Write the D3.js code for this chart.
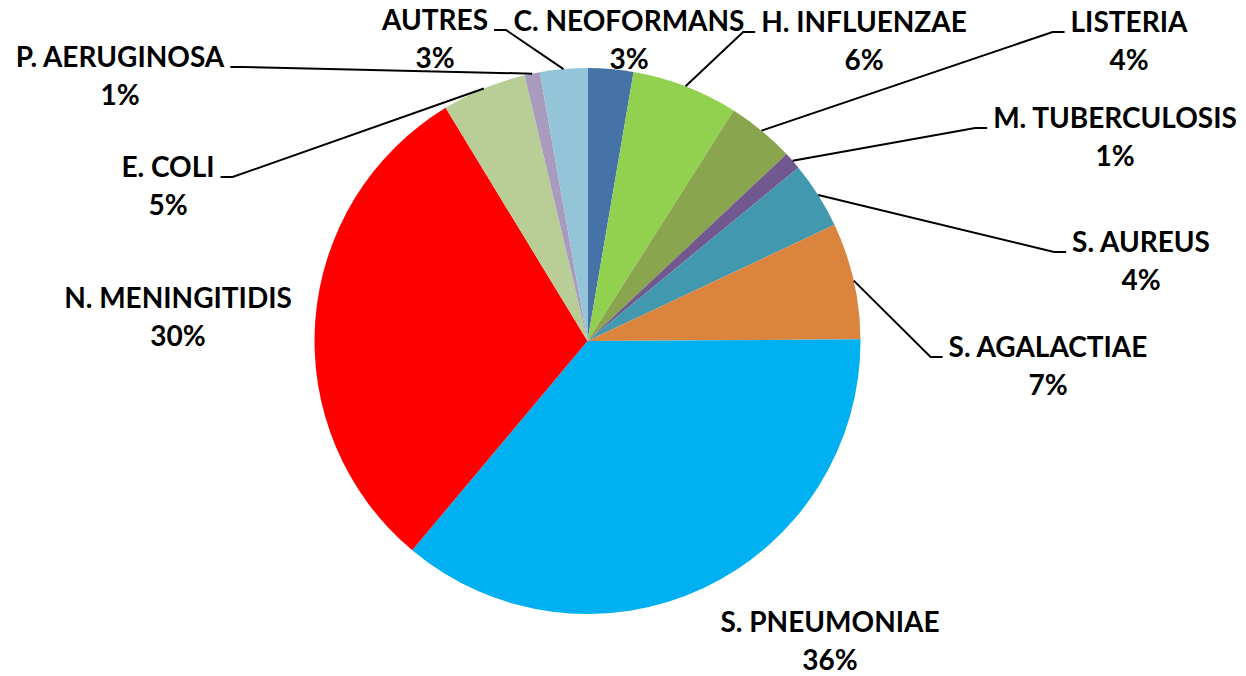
<!DOCTYPE html>
<html>
<head>
<meta charset="utf-8">
<script src="https://cdn.jsdelivr.net/npm/d3@7"></script>
<style>
  html, body { margin: 0; padding: 0; background: #fff; }
  svg { display: block; }
</style>
</head>
<body>
<div id="chart"></div>
<script>
// ── Pathogen share pie ──
// Slices run clockwise from 12 o'clock, in the sheet's row order.

const categories = [
  'C. NEOFORMANS', 'H. INFLUENZAE', 'LISTERIA', 'M. TUBERCULOSIS', 'S. AUREUS',
  'S. AGALACTIAE', 'S. PNEUMONIAE', 'N. MENINGITIDIS', 'E. COLI', 'P. AERUGINOSA', 'AUTRES',
]

const shares = [2.7, 6.3, 4.0, 1.05, 3.95, 6.9, 36.2, 30.2, 5.0, 0.9, 2.8]

const sliceColors = [
  '#4572A7', '#92D050', '#89A54E', '#71588F', '#4198AF',
  '#DB843D', '#00B0F0', '#FF0000', '#B9CD96', '#A99BBD', '#93C4D8',
]

// Label layout: block centre x and first-line baseline, as placed by hand in the sheet
const labelPos = [
  [629, 31], [864, 32], [1129, 32], [1115, 128], [1141, 252],
  [1048, 357], [830, 632], [178, 308], [168, 177], [120, 67], [435, 30],
]
const hasLeader = [false, true, true, true, true, true, false, false, true, true, true]

const width = 1246, height = 676
const cx = 587.5, cy = 341, radius = 273
const lineGap = 37.5

const svg = d3.select('#chart')
  .append('svg')
  .attr('width', width)
  .attr('height', height)
  .attr('viewBox', `0 0 ${width} ${height}`)

const data = categories.map((name, i) => ({ name, value: shares[i], i }))
const total = d3.sum(shares)
const pct = d3.format('.0%')

const pie = d3.pie().sort(null).value(d => d.value)
const arcs = pie(data)
const arc = d3.arc().innerRadius(0).outerRadius(radius)
const edgeArc = d3.arc().innerRadius(radius).outerRadius(radius)

const g = svg.append('g').attr('transform', `translate(${cx},${cy})`)

g.selectAll('path.slice')
  .data(arcs)
  .join('path')
  .attr('class', 'slice')
  .attr('d', arc)
  .attr('fill', d => sliceColors[d.data.i])

// labels first, so leader stubs can sit against the measured text edge
const labels = svg.selectAll('text.lbl')
  .data(arcs)
  .join('text')
  .attr('class', 'lbl')
  .attr('text-anchor', 'middle')
  .attr('font-family', 'Lato, "Open Sans", sans-serif')
  .attr('font-weight', 700)
  .attr('font-size', 28)
  .attr('fill', '#000')

labels.append('tspan')
  .attr('x', d => labelPos[d.data.i][0])
  .attr('y', d => labelPos[d.data.i][1])
  .text(d => d.data.name)

labels.append('tspan')
  .attr('x', d => labelPos[d.data.i][0])
  .attr('y', d => labelPos[d.data.i][1] + lineGap)
  .text(d => pct(d.data.value / total))

const leaders = []
labels.each(function (d) {
  if (!hasLeader[d.data.i]) return
  const [lx, ly] = labelPos[d.data.i]
  const half = this.querySelector('tspan').getComputedTextLength() / 2
  const [ex, ey] = edgeArc.centroid(d)
  const px = cx + ex, py = cy + ey
  const onRight = lx > px
  const gap = 6, stub = 12
  const x0 = onRight ? lx - half - gap : lx + half + gap
  const x1 = onRight ? x0 - stub : x0 + stub
  leaders.push([[x0, ly], [x1, ly], [px, py]])
})

svg.insert('g', 'text.lbl')
  .selectAll('path.leader')
  .data(leaders)
  .join('path')
  .attr('class', 'leader')
  .attr('d', d3.line())
  .attr('fill', 'none')
  .attr('stroke', '#000')
  .attr('stroke-width', 2)
</script>
</body>
</html>
